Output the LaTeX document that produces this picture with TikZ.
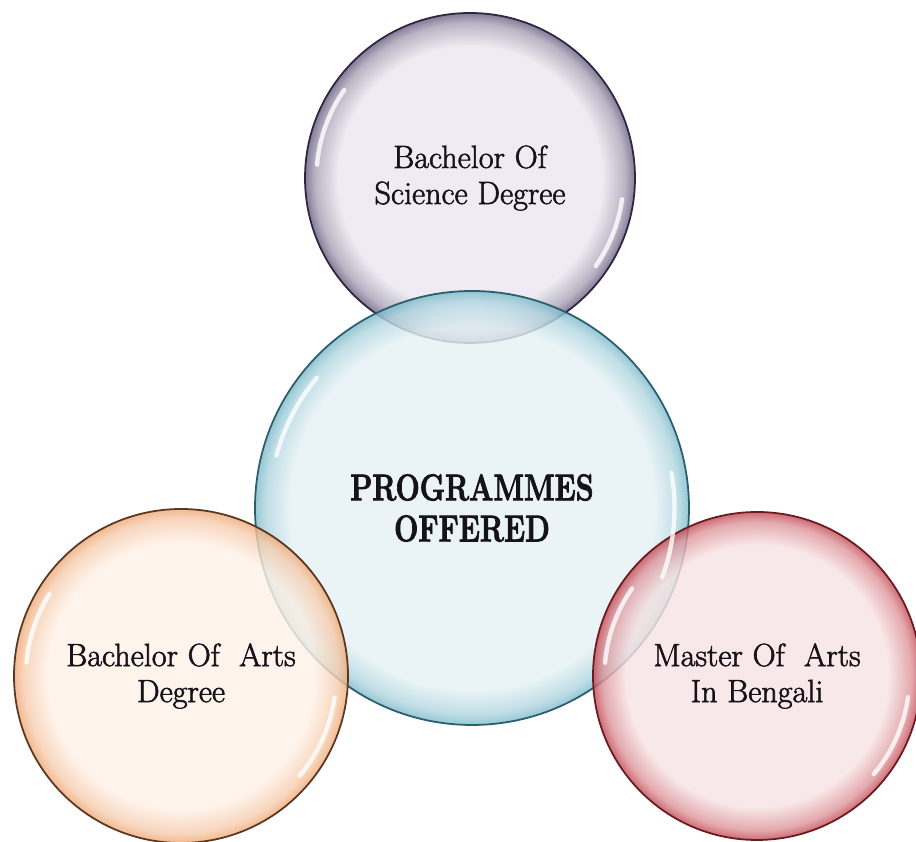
\documentclass[tikz,border=0pt]{standalone}
\usepackage{tikz}
\usepackage{graphicx}
\usepackage{fontspec}
\newfontfamily\bubblefont{Latin Modern Roman}[FakeBold=1.8]
\newfontfamily\titlefont{Latin Modern Roman}[FakeBold=2.4]

\definecolor{scifill}{HTML}{EAE8EF}
\definecolor{scirim}{HTML}{6A6080}
\definecolor{scidraw}{HTML}{2C2640}
\definecolor{progfill}{HTML}{E5F1F5}
\definecolor{progrim}{HTML}{7DBBCB}
\definecolor{progdraw}{HTML}{2A5E6E}
\definecolor{artsfill}{HTML}{FEF1E7}
\definecolor{artsrim}{HTML}{EFAA78}
\definecolor{artsdraw}{HTML}{5A3820}
\definecolor{mafill}{HTML}{F7E3E4}
\definecolor{marim}{HTML}{C44C56}
\definecolor{madraw}{HTML}{6A1A20}
\definecolor{inktext}{HTML}{16121A}

\pgfdeclareradialshading{scibubble}{\pgfpointorigin}{color(0bp)=(scifill); color(20bp)=(scifill); color(23.5bp)=(scirim!50!scifill); color(25bp)=(scirim); color(50bp)=(scirim)}
\pgfdeclareradialshading{progbubble}{\pgfpointorigin}{color(0bp)=(progfill); color(21bp)=(progfill); color(23.8bp)=(progrim!50!progfill); color(25bp)=(progrim); color(50bp)=(progrim)}
\pgfdeclareradialshading{artsbubble}{\pgfpointorigin}{color(0bp)=(artsfill); color(20bp)=(artsfill); color(23.5bp)=(artsrim!50!artsfill); color(25bp)=(artsrim); color(50bp)=(artsrim)}
\pgfdeclareradialshading{mabubble}{\pgfpointorigin}{color(0bp)=(mafill); color(20bp)=(mafill); color(23.5bp)=(marim!50!mafill); color(25bp)=(marim); color(50bp)=(marim)}

\begin{document}
\begin{tikzpicture}[
  bubble/.style={circle,shade,line width=1pt,fill opacity=0.82,text opacity=1,align=center,inner sep=0pt,text=inktext},
  subtext/.style={font=\bubblefont\fontsize{18.3}{20.5}\selectfont},
  titletext/.style={font=\titlefont\fontsize{16.3}{20.5}\selectfont\bfseries},
  glint/.style={white,line width=2.5pt,line cap=round,opacity=0.8}
]
\useasboundingbox (0,0) rectangle (18.32,16.84);
\node[bubble,shading=scibubble,draw=scidraw,minimum size=6.6cm,subtext] (sci) at (9.40,13.28) {Bachelor Of\\Science Degree};
\node[bubble,shading=progbubble,draw=progdraw,minimum size=8.68cm,titletext] (prog) at (9.44,6.68) {\scalebox{1}[1.3]{PROGRAMMES}\\[0.1cm]\scalebox{1}[1.3]{OFFERED}};
\node[bubble,shading=artsbubble,draw=artsdraw,minimum size=6.68cm,subtext] (arts) at (3.62,3.32) {Bachelor Of~ Arts\\Degree};
\node[bubble,shading=mabubble,draw=madraw,minimum size=6.56cm,subtext] (ma) at (15.14,3.32) {Master Of~ Arts\\In Bengali};
% highlights
\draw[glint] ([shift={(145:3.07)}]sci.center) arc[start angle=145,end angle=175,radius=3.07];
\draw[glint] ([shift={(-35:3.07)}]sci.center) arc[start angle=-35,end angle=-8,radius=3.07];
\draw[glint] ([shift={(140:4.05)}]prog.center) arc[start angle=140,end angle=165,radius=4.05];
\draw[glint] ([shift={(-20:4.05)}]prog.center) arc[start angle=-20,end angle=10,radius=4.05];
\draw[glint] ([shift={(148:3.1)}]arts.center) arc[start angle=148,end angle=175,radius=3.1];
\draw[glint] ([shift={(-40:3.1)}]arts.center) arc[start angle=-40,end angle=-8,radius=3.1];
\draw[glint] ([shift={(145:3.05)}]ma.center) arc[start angle=145,end angle=175,radius=3.05];
\draw[glint] ([shift={(-40:3.05)}]ma.center) arc[start angle=-40,end angle=-8,radius=3.05];
\end{tikzpicture}
\end{document}
